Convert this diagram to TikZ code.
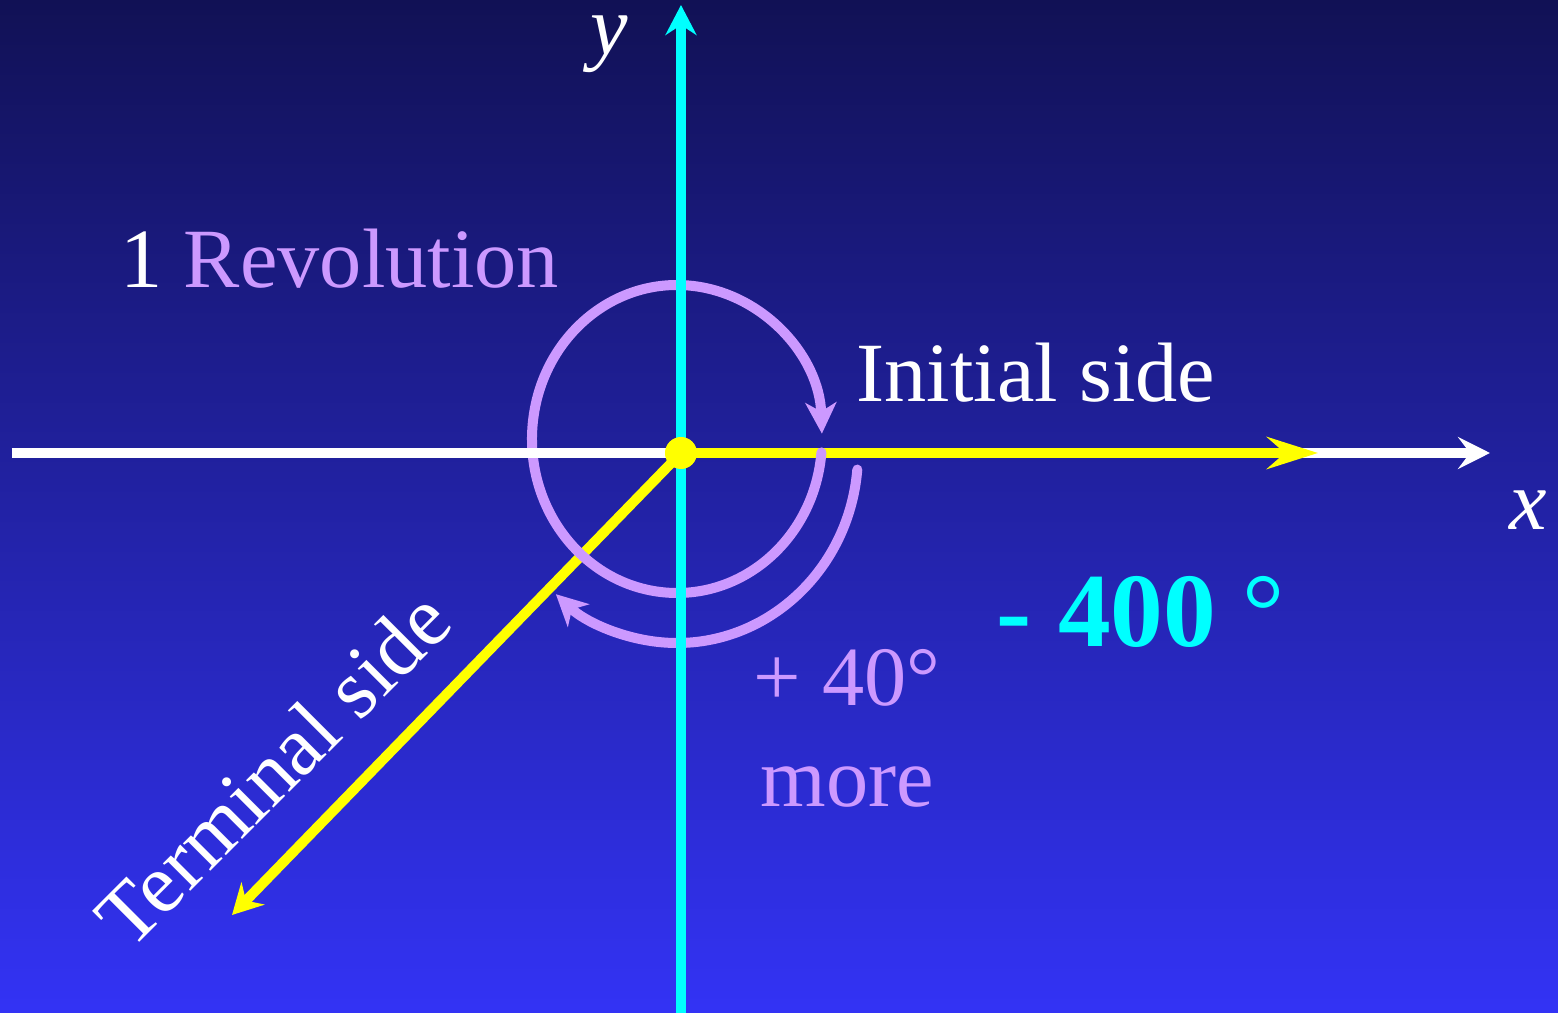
\documentclass[tikz,border=0pt]{standalone}
\usepackage{fontspec}
\setmainfont{Liberation Serif}
\usetikzlibrary{arrows.meta}
\definecolor{bgtop}{RGB}{17,17,85}
\definecolor{bgbot}{RGB}{51,51,245}
\definecolor{lilac}{RGB}{204,153,255}
\definecolor{axiscyan}{RGB}{0,255,255}
\definecolor{sideyellow}{RGB}{255,255,0}

\begin{document}
\begin{tikzpicture}[
    axis/.style={line width=1mm},
    side/.style={line width=1mm, color=sideyellow},
    turn/.style={line width=1mm, color=lilac, line cap=round,
                 -{Stealth[length=3.1mm, width=3.1mm, inset=0.9mm]}},
    lbl/.style={font=\fontsize{24}{28}\selectfont, inner sep=0pt},
    big/.style={font=\fontsize{30}{34}\selectfont\bfseries, inner sep=0pt},
]
    % background
    \useasboundingbox (-6.81,-5.60) rectangle (8.77,4.53);
    \shade[top color=bgtop, bottom color=bgbot] (-6.81,-5.60) rectangle (8.77,4.53);

    \coordinate (O) at (0,0);
    \coordinate (xstart) at (-6.69,0);
    \coordinate (xend) at (8.09,0);
    \coordinate (ystart) at (0,-5.60);
    \coordinate (yend) at (0,4.48);
    \coordinate (init) at (6.37,0);
    \coordinate (term) at (-4.49,-4.62);
    \coordinate (inner) at (-0.04,0.14);
    \coordinate (outer) at (-0.04,0);

    % x axis under the initial side
    \draw[axis, white, -{Stealth[length=3.2mm, width=3.2mm, inset=1.2mm]}] (xstart) -- (xend);

    % initial and terminal sides
    \draw[side, -{Stealth[length=5.1mm, width=3.2mm, inset=1.8mm]}] (O) -- (init);
    \draw[side, -{Stealth[length=3mm, width=3.2mm, inset=1mm]}] (O) -- (term);

    % one turn and 40 more
    \draw[turn] ([shift={(-5:1.45 and 1.54)}]inner)
        arc[start angle=-5, end angle=-358, x radius=1.45, y radius=1.54];
    \draw[turn] ([shift={(-5:1.81 and 1.90)}]outer)
        arc[start angle=-5, end angle=-132, x radius=1.81, y radius=1.90];

    % axes on top
    \draw[axis, white] (xstart) -- (O);
    \draw[axis, axiscyan, -{Stealth[length=3mm, width=3.1mm, inset=1mm]}] (ystart) -- (yend);
    \fill[sideyellow] (O) circle (0.16);

    % labels
    \node[lbl, white, anchor=base] (ylab) at (-0.72,3.98) {\itshape y};
    \node[lbl, white, anchor=base] (xlab) at (8.47,-0.77) {\itshape x};
    \node[lbl, lilac, anchor=base west] (rev) at (-5.61,1.65) {{\color{white}1} Revolution};
    \node[lbl, white, anchor=base west] (initlab) at (1.75,0.51) {Initial side};
    \node[lbl, white, anchor=base west, rotate=45] (termlab) at (-5.51,-4.99) {Terminal side};
    \node[big, axiscyan, anchor=base west] (deg) at (3.15,-1.94) {- 400 \textmd{°}};
    \node[lbl, lilac, anchor=base west] (plus) at (0.72,-2.53) {+ 40°};
    \node[lbl, lilac, anchor=base west] (more) at (0.79,-3.54) {more};
\end{tikzpicture}
\end{document}
